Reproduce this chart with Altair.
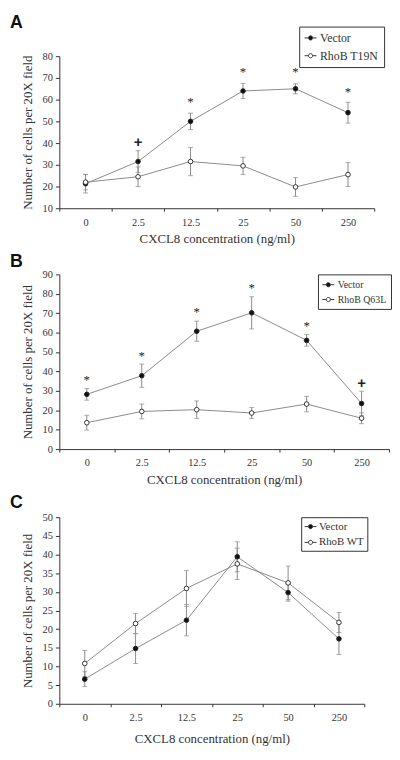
import altair as alt
import pandas as pd

CATS = ["0", "2.5", "12.5", "25", "50", "250"]

# Panel A
A_VEC = [21.3, 31.5, 50.0, 64.0, 65.0, 54.0]
A_VEC_ERR = [4.3, 5.0, 3.8, 3.5, 2.3, 4.8]
A_RHO = [22.0, 24.5, 31.5, 29.5, 19.8, 25.5]
A_RHO_ERR = [3.5, 4.5, 6.5, 4.0, 4.3, 5.5]
A_RHO_NAME = "RhoB T19N"
A_MARK_CATS = ["2.5", "12.5", "25", "50", "250"]
A_MARK_Y = [40.5, 59.0, 72.5, 72.5, 63.5]
A_MARK_SYM = ["+", "*", "*", "*", "*"]

# Panel B
B_VEC = [28.2, 37.8, 60.7, 70.2, 56.0, 23.5]
B_VEC_ERR = [3.0, 6.0, 5.2, 8.3, 3.0, 6.3]
B_RHO = [13.6, 19.4, 20.3, 18.6, 23.2, 15.9]
B_RHO_ERR = [3.8, 3.8, 4.5, 2.8, 4.0, 2.8]
B_RHO_NAME = "RhoB Q63L"
B_MARK_CATS = ["0", "2.5", "12.5", "25", "50", "250"]
B_MARK_Y = [35.8, 47.7, 70.5, 83.0, 63.4, 34.0]
B_MARK_SYM = ["*", "*", "*", "*", "*", "+"]

# Panel C
C_VEC = [6.6, 14.8, 22.4, 39.4, 29.8, 17.4]
C_VEC_ERR = [2.0, 4.0, 4.2, 4.0, 2.3, 4.2]
C_RHO = [10.8, 21.5, 30.9, 37.5, 32.4, 21.8]
C_RHO_ERR = [3.5, 2.7, 4.8, 4.2, 4.5, 2.7]
C_RHO_NAME = "RhoB WT"

SERIF = "Liberation Serif"
TXT = "#333333"
GRAY = "#8a8a8a"
LEG_PATH = ("M-1,0L-0.35,0M0.35,0L1,0M-0.35,0"
            "A0.35,0.35 0 1,0 0.35,0A0.35,0.35 0 1,0 -0.35,0Z")


def panel(letter, vec, vec_err, rho, rho_err, rho_name, mcats, my, msym,
          ydom, ystep, width, height, leg, xtitlepad, title_off):
    rows = []
    for name, vals, errs in (("Vector", vec, vec_err), (rho_name, rho, rho_err)):
        for c, v, e in zip(CATS, vals, errs):
            rows.append({"conc": c, "series": name, "value": v,
                         "lo": v - e, "hi": v + e})
    df = pd.DataFrame(rows)
    ann = pd.DataFrame({"conc": mcats, "y": my, "sym": msym})

    xscale = alt.Scale(type="band", paddingInner=0, paddingOuter=0)
    xaxis = alt.Axis(title="CXCL8 concentration (ng/ml)", labelAngle=0,
                     tickBand="extent", tickSize=3, labelPadding=6,
                     titlePadding=xtitlepad)
    x = alt.X("conc:N", sort=CATS, scale=xscale, axis=xaxis)
    yvals = list(range(ydom[0], ydom[1] + 1, ystep))
    yscale = alt.Scale(domain=ydom, nice=False, zero=False)
    yaxis = alt.Axis(title="Number of cells per 20X field", values=yvals,
                     tickSize=4, labelPadding=3, titlePadding=8,
                     labelOverlap=False)

    def Y(f):
        return alt.Y(f + ":Q", scale=yscale, axis=yaxis)

    base = alt.Chart(df)
    line = base.mark_line(color=GRAY, strokeWidth=1).encode(
        x=x, y=Y("value"), detail="series:N")
    rule = base.mark_rule(color=GRAY, strokeWidth=1).encode(
        x=x, y=Y("lo"), y2="hi:Q")
    cap_lo = base.mark_tick(color=GRAY, size=5, thickness=1).encode(
        x=x, y=Y("lo"))
    cap_hi = base.mark_tick(color=GRAY, size=5, thickness=1).encode(
        x=x, y=Y("hi"))
    pts = base.mark_point(filled=True, shape="circle", size=22, opacity=1,
                          stroke="#222222", strokeWidth=0.9).encode(
        x=x, y=Y("value"),
        fill=alt.Fill("series:N",
                      scale=alt.Scale(domain=["Vector", rho_name],
                                      range=["#111111", "#ffffff"]),
                      legend=alt.Legend(title=None, orient="none",
                                        legendX=leg["x"], legendY=leg["y"],
                                        symbolType=LEG_PATH, symbolSize=144,
                                        symbolStrokeColor="#333333",
                                        symbolStrokeWidth=1,
                                        labelFont=SERIF, labelFontSize=leg["fs"],
                                        labelColor=TXT, labelOffset=leg["off"],
                                        strokeColor="#333333", fillColor="white",
                                        padding=leg["pad"],
                                        rowPadding=leg["rp"])))
    layers = [line, rule, cap_lo, cap_hi, pts]
    if len(mcats):
        star = alt.Chart(ann).transform_filter(alt.datum.sym == "*").mark_text(
            font=SERIF, fontSize=13, color="#222222", baseline="middle").encode(
            x=x, y=Y("y"), text="sym:N")
        plus = alt.Chart(ann).transform_filter(alt.datum.sym == "+").mark_text(
            font="Liberation Sans", fontSize=15, fontWeight="bold",
            color="#222222", baseline="middle").encode(
            x=x, y=Y("y"), text="sym:N")
        layers += [star, plus]
    return alt.layer(*layers).properties(
        width=width, height=height,
        title=alt.TitleParams(letter, anchor="start", frame="group",
                              font="Liberation Sans", fontSize=18,
                              fontWeight="bold", color="#111111", dx=-50,
                              offset=title_off))


pa = panel("A", A_VEC, A_VEC_ERR, A_RHO, A_RHO_ERR, A_RHO_NAME,
           A_MARK_CATS, A_MARK_Y, A_MARK_SYM, [10, 80], 10, 319, 154,
           {"x": 243, "y": -30, "fs": 12, "off": 3, "pad": 5, "rp": 5},
           5, -6)
pb = panel("B", B_VEC, B_VEC_ERR, B_RHO, B_RHO_ERR, B_RHO_NAME,
           B_MARK_CATS, B_MARK_Y, B_MARK_SYM, [0, 90], 10, 334, 177,
           {"x": 262, "y": 0, "fs": 10, "off": 3, "pad": 4, "rp": 3},
           5, -2)
pc = panel("C", C_VEC, C_VEC_ERR, C_RHO, C_RHO_ERR, C_RHO_NAME,
           [], [], [], [0, 50], 5, 309, 189,
           {"x": 245, "y": 0, "fs": 11, "off": 2, "pad": 3, "rp": 4},
           10, 0)

chart = alt.vconcat(pa, pb, pc, spacing=8).resolve_scale(
    fill="independent", x="independent", y="independent"
).resolve_legend(fill="independent").properties(
    padding={"left": 2, "top": 1, "right": 0, "bottom": 0}
).configure_view(stroke=None).configure_axis(
    domainColor="#333333", tickColor="#333333", labelColor=TXT,
    titleColor=TXT, labelFont=SERIF, titleFont=SERIF, labelFontSize=10.5,
    titleFontSize=13, titleFontWeight="normal", grid=False
)

chart.save("out.html", embed_options={"renderer": "svg", "actions": False})
